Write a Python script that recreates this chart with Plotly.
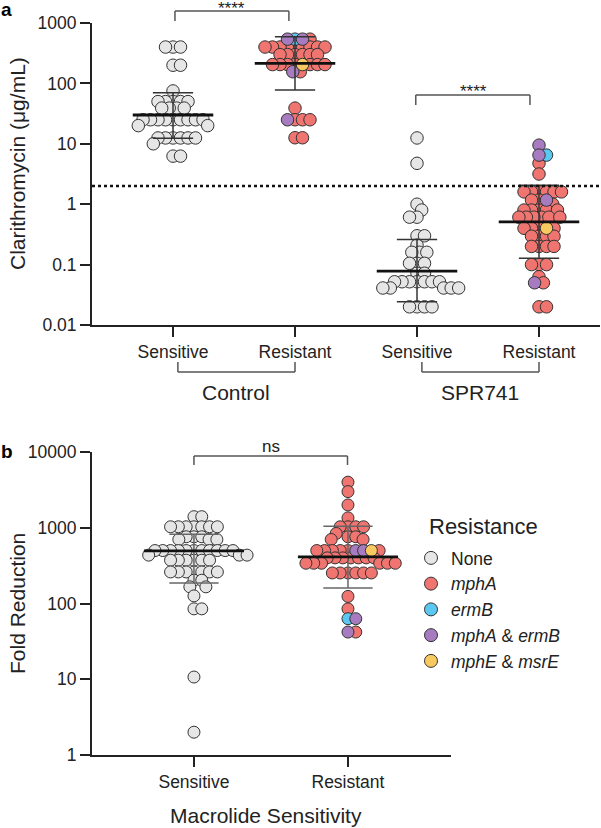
import math
import plotly.graph_objects as go

W, H = 601, 828

# ---------------- data ----------------
resist_types = ["None", "mphA", "ermB", "mphA & ermB", "mphE & msrE"]
resist_labels = ["None", "<i>mphA</i>", "<i>ermB</i>",
                 "<i>mphA</i> &amp; <i>ermB</i>", "<i>mphE</i> &amp; <i>msrE</i>"]
resist_colors = ["#E6E6E6", "#F07470", "#5BC8F2", "#A67BC0", "#F7C95E"]
legend_title = "Resistance"

# Panel a: clarithromycin MIC (µg/mL)
a_tick_labels = ["Sensitive", "Resistant", "Sensitive", "Resistant"]
a_group_labels = ["Control", "SPR741"]
a_y_ticks = [0.01, 0.1, 1, 10, 100, 1000]
a_y_ticklabels = ["0.01", "0.1", "1", "10", "100", "1000"]
a_breakpoint = 2

a_ctrl_sens = [400, 400, 400, 200, 200, 75, 50, 50, 50, 50, 50, 39, 39, 39, 39,
               25, 25, 25, 25, 25, 25, 25, 25, 25, 20, 20,
               12.5, 12.5, 12.5, 12.5, 12.5, 12.5, 10, 6.25, 6.25]

a_ctrl_res = [540, 540, 540, 540,
              400, 400, 400, 400, 400, 400, 400, 400, 400,
              300, 300, 300, 300, 300, 300,
              205, 205, 205, 205, 205, 205, 205, 205,
              156, 156, 39, 25, 25, 25, 25, 12.6, 12.6]
a_ctrl_res_genes = ["ermB", "mphA & ermB", "mphA & ermB", "mphA",
                    "mphA", "mphA", "mphA", "mphA", "mphA", "mphA", "mphA", "mphA", "mphA",
                    "mphA", "mphA", "mphA", "mphA", "mphA", "mphA",
                    "mphA", "mphE & msrE", "mphA", "mphA", "mphA", "mphA", "mphA", "mphA",
                    "mphA & ermB", "mphA", "mphA", "mphA", "mphA", "mphA & ermB", "mphA",
                    "mphA", "mphA"]

a_spr_sens = [12.5, 4.75, 1.0, 0.8, 0.61, 0.61, 0.30, 0.30, 0.21, 0.16, 0.16, 0.16,
              0.105, 0.105, 0.105, 0.072, 0.072,
              0.052, 0.052, 0.052, 0.052, 0.052, 0.052, 0.052,
              0.041, 0.041, 0.041, 0.041, 0.041,
              0.020, 0.020, 0.020, 0.020]

a_spr_res = [9.5, 6.5, 6.5, 4.75, 3.16,
             1.6, 1.6, 1.6, 1.6, 1.6, 1.6,
             1.17, 1.17, 1.17, 1.0,
             0.8, 0.8, 0.8, 0.8, 0.8,
             0.61, 0.61, 0.61, 0.61, 0.61, 0.61,
             0.40, 0.40, 0.40, 0.40, 0.40,
             0.295, 0.295, 0.295, 0.295,
             0.2, 0.2, 0.2, 0.2,
             0.1, 0.1, 0.1, 0.063, 0.05, 0.05, 0.02, 0.02]
a_spr_res_genes = ["mphA & ermB", "mphA & ermB", "ermB", "mphA", "mphA",
                   "mphA", "mphA", "mphA", "mphA", "mphA", "mphA",
                   "mphA", "mphA & ermB", "mphA", "mphA",
                   "mphA", "mphA", "mphA", "mphA", "mphA",
                   "mphA", "mphA", "mphA", "mphA", "mphA", "mphA",
                   "mphA", "mphE & msrE", "mphA", "mphA", "mphA",
                   "mphA", "mphA", "mphA", "mphA",
                   "mphA", "mphA", "mphA", "mphA",
                   "mphA", "mphA", "mphA", "mphA", "mphA", "mphA & ermB", "mphA", "mphA"]

# centre line and error bars (panel a)
a_center = [30, 215, 0.078, 0.51]
a_upper = [70, 593, 0.26, 2.05]
a_lower = [12.3, 78, 0.0242, 0.127]

# Panel b: fold reduction
b_tick_labels = ["Sensitive", "Resistant"]
b_y_ticks = [1, 10, 100, 1000, 10000]
b_y_ticklabels = ["1", "10", "100", "1000", "10000"]

b_sens = [1400, 1400, 1030, 1030, 1030, 1030, 1030, 1030, 1030,
          760, 760, 760, 700, 700, 700,
          500, 500, 500, 500, 500, 500, 500, 500, 500, 500, 500,
          435, 435, 435, 373, 373, 373, 373, 373, 373,
          261, 261, 261, 261, 261, 261, 261, 203, 203, 166, 166, 126, 85, 85, 10.7, 2]

b_res = [4000, 3000, 2000, 1350, 1030, 1030, 1030, 1030, 840, 760, 760, 700, 700,
         500, 500, 500, 500, 500, 500, 500, 500, 500,
         400, 400, 400, 400, 400, 400, 400,
         340, 340, 340, 340, 340, 340,
         253, 253, 253, 253, 253, 253, 124, 85, 63, 63, 42, 42]
b_res_genes = ["mphA", "mphA", "mphA", "mphA", "mphA", "mphA", "mphA", "mphA", "mphA",
               "mphA", "mphA", "mphA", "mphA",
               "mphA", "mphA & ermB", "mphA", "mphA & ermB", "mphA", "mphE & msrE",
               "mphA", "mphA", "mphA",
               "mphA", "mphA", "mphA", "mphA", "mphA", "mphA", "mphA",
               "mphA", "mphA", "mphA", "mphA", "mphA", "mphA",
               "mphA", "mphA", "mphA", "mphA", "mphA", "mphA", "mphA", "mphA",
               "ermB", "mphA & ermB", "mphA & ermB", "mphA"]

b_center = [495, 413]
b_upper = [820, 1050]
b_lower = [187, 160]

# ---------------- layout geometry ----------------
def py(px):
    return 1 - px / H

def pxx(px):
    return px / W

A_X0, A_X1, A_Y0, A_Y1 = 92, 600, 23, 325
B_X0, B_X1, B_Y0, B_Y1 = 92, 451, 452, 755
A_XR = [0.336, 4.5]
B_XR = [0.338, 2.669]
A_PPU = (A_X1 - A_X0) / (A_XR[1] - A_XR[0])
B_PPU = (B_X1 - B_X0) / (B_XR[1] - B_XR[0])
A_PPD = (A_Y1 - A_Y0) / 5.0
B_PPD = (B_Y1 - B_Y0) / 4.0


def swarm(values, ppd, d):
    ys = [math.log10(v) * ppd for v in values]
    order = sorted(range(len(values)), key=lambda i: -ys[i])
    placed = []
    xs = [0.0] * len(values)
    for i in order:
        y = ys[i]
        cands = {0.0}
        for (qx, qy) in placed:
            dy = abs(qy - y)
            if dy < d:
                dx = math.sqrt(d * d - dy * dy)
                cands.add(qx + dx)
                cands.add(qx - dx)
        valid = [c for c in cands
                 if all((c - qx) ** 2 + (y - qy) ** 2 >= d * d - 1e-6 for qx, qy in placed)]
        nl = sum(1 for qx, qy in placed if abs(qy - y) < d and qx < -1e-6)
        nr = sum(1 for qx, qy in placed if abs(qy - y) < d and qx > 1e-6)

        def key(c):
            side = 0 if abs(c) < 1e-6 else (nr if c > 0 else nl)
            return (round(abs(c), 2), side, -c)
        best = min(valid, key=key)
        xs[i] = best
        placed.append((best, y))
    return xs


groups = [
    ("a", 1, a_ctrl_sens, None),
    ("a", 2, a_ctrl_res, a_ctrl_res_genes),
    ("a", 3, a_spr_sens, None),
    ("a", 4, a_spr_res, a_spr_res_genes),
    ("b", 1, b_sens, None),
    ("b", 2, b_res, b_res_genes),
]

fig = go.Figure()

points = {g: [] for g in resist_types}
for panel, pos, vals, genes in groups:
    if panel == "a":
        offs = swarm(vals, A_PPD, 7.5)
        ppu = A_PPU
    else:
        offs = swarm(vals, B_PPD, 7.8)
        ppu = B_PPU
    gl = genes if genes is not None else ["None"] * len(vals)
    for v, o, g in zip(vals, offs, gl):
        points[g].append((panel, pos + o / ppu, v))

for g, col in zip(resist_types, resist_colors):
    for panel in ["a", "b"]:
        pts = [p for p in points[g] if p[0] == panel]
        if not pts:
            continue
        fig.add_trace(go.Scatter(
            x=[p[1] for p in pts], y=[p[2] for p in pts], mode="markers",
            xaxis="x" if panel == "a" else "x2", yaxis="y" if panel == "a" else "y2",
            marker=dict(size=12.5 if panel == "a" else 12, color=col,
                        line=dict(color="#333333", width=1)),
            showlegend=False, hoverinfo="skip"))


def stat_traces(positions, center, upper, lower, xa, ya, mw, cw, ecol):
    mx, my, ex, ey = [], [], [], []
    for c, m, u, l in zip(positions, center, upper, lower):
        mx += [c - mw, c + mw, None]
        my += [m, m, None]
        ex += [c - cw, c + cw, None, c - cw, c + cw, None, c, c, None]
        ey += [u, u, None, l, l, None, l, u, None]
    fig.add_trace(go.Scatter(x=ex, y=ey, mode="lines", xaxis=xa, yaxis=ya,
                             line=dict(color=ecol, width=1.5), showlegend=False, hoverinfo="skip"))
    fig.add_trace(go.Scatter(x=mx, y=my, mode="lines", xaxis=xa, yaxis=ya,
                             line=dict(color="#111111", width=2.8), showlegend=False, hoverinfo="skip"))


stat_traces([1, 2, 3, 4], a_center, a_upper, a_lower, "x", "y", 0.33, 0.165, "#333333")
stat_traces([1, 2], b_center, b_upper, b_lower, "x2", "y2", 0.325, 0.16, "#666666")

# breakpoint line
fig.add_trace(go.Scatter(x=A_XR, y=[a_breakpoint, a_breakpoint], mode="lines",
                         xaxis="x", yaxis="y",
                         line=dict(color="#111111", width=2.6, dash="dot"),
                         showlegend=False, hoverinfo="skip"))

# legend entries
for name, col in zip(resist_labels, resist_colors):
    fig.add_trace(go.Scatter(x=[None], y=[None], mode="markers", xaxis="x2", yaxis="y2",
                             name=name,
                             marker=dict(size=13, color=col, line=dict(color="#333333", width=1))))

FONT = "Liberation Sans, Arial, Helvetica, sans-serif"
TXT = "#222222"
shapes = []
annotations = []


def bracket(xref, xa, xb, y_line, y_end, color="#555555"):
    for (x0, y0, x1, y1) in [(xa, y_end, xa, y_line), (xa, y_line, xb, y_line), (xb, y_line, xb, y_end)]:
        shapes.append(dict(type="line", xref=xref, yref="paper", x0=x0, x1=x1,
                           y0=py(y0), y1=py(y1), line=dict(color=color, width=1.5)))


def note(text, xref, x, y, size, **kw):
    d = dict(text=text, xref=xref, yref="paper", x=x, y=y, showarrow=False,
             xanchor="center", yanchor="middle",
             font=dict(size=size, color=kw.pop("color", TXT), family=FONT))
    d.update(kw)
    annotations.append(d)


# significance brackets
bracket("x", 1.016, 1.95, 11, 21)
bracket("x", 2.99, 3.926, 95, 105)
bracket("x2", 1.0, 1.997, 456, 465)
note("****", "x", 1.48, py(8), 17)
note("****", "x", 3.46, py(91), 17)
note("ns", "x2", 1.5, py(447), 17)

# group brackets under panel a
for k, lab in enumerate(a_group_labels):
    c1, c2 = 2 * k + 1, 2 * k + 2
    bracket("x", c1 + 0.04, c2, 372, 362)
    note(lab, "x", (c1 + c2) / 2 + 0.02, py(392), 21)

# axis titles, panel letters, legend title
note("Clarithromycin (μg/mL)", "paper", pxx(17), py(164), 21, textangle=-90)
note("Fold Reduction", "paper", pxx(17), py(604), 21, textangle=-90)
note("Macrolide Sensitivity", "paper", pxx(266), py(815), 21)
note("<b>a</b>", "paper", pxx(6.5), py(9), 19, color="#000")
note("<b>b</b>", "paper", pxx(7), py(451), 19, color="#000")
note(legend_title, "paper", pxx(427), py(526), 22, xanchor="left")

axis_common = dict(showline=True, linewidth=2, linecolor="#222222", ticks="outside",
                   ticklen=10, tickwidth=2, tickcolor="#222222", showgrid=False,
                   zeroline=False, tickfont=dict(size=17.5, color=TXT, family=FONT),
                   fixedrange=True, automargin=False)

fig.update_layout(
    template="none",
    width=W, height=H, autosize=False,
    margin=dict(l=0, r=0, t=0, b=0, pad=0),
    paper_bgcolor="white", plot_bgcolor="white",
    font=dict(family=FONT, color=TXT),
    xaxis=dict(domain=[pxx(A_X0), pxx(A_X1)], range=A_XR, anchor="y",
               tickmode="array", tickvals=[1, 2, 3, 4], ticktext=a_tick_labels, **axis_common),
    yaxis=dict(domain=[py(A_Y1), py(A_Y0)], type="log", range=[-2, 3], anchor="x",
               tickmode="array", tickvals=a_y_ticks, ticktext=a_y_ticklabels, **axis_common),
    xaxis2=dict(domain=[pxx(B_X0), pxx(B_X1)], range=B_XR, anchor="y2",
                tickmode="array", tickvals=[1, 2], ticktext=b_tick_labels, **axis_common),
    yaxis2=dict(domain=[py(B_Y1), py(B_Y0)], type="log", range=[0, 4], anchor="x2",
                tickmode="array", tickvals=b_y_ticks, ticktext=b_y_ticklabels, **axis_common),
    shapes=shapes,
    annotations=annotations,
    showlegend=True,
    legend=dict(x=pxx(421), y=py(540), xanchor="left", yanchor="top",
                bgcolor="rgba(0,0,0,0)", indentation=-10,
                font=dict(size=17.5, color=TXT, family=FONT)),
)

fig.write_html("out.html", config={"displayModeBar": False, "staticPlot": True},
               post_script="document.body.style.margin='0px';")
